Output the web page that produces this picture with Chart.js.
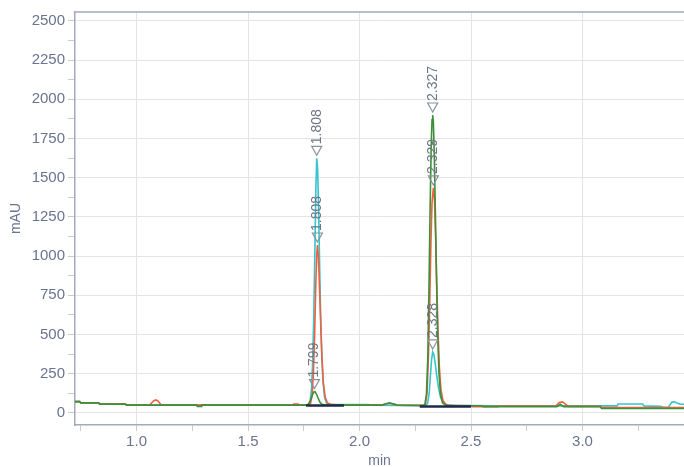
<!DOCTYPE html>
<html>
<head>
<meta charset="utf-8">
<script src="https://cdn.jsdelivr.net/npm/chart.js@4.4.1/dist/chart.umd.min.js"></script>
<style>
  html, body { margin: 0; padding: 0; background: #fff; }
  #wrap { width: 684px; height: 467px; }
</style>
</head>
<body>
<div id="wrap"><canvas id="chart"></canvas></div>
<script>
// traces as [time (min), absorbance (mAU)] pairs
const greenTrace = [
  [0.724, 72], [0.745, 72], [0.75, 64], [0.83, 64], [0.835, 56], [0.95, 56], [0.955, 50],
  [1.27, 50], [1.272, 42], [1.29, 42], [1.292, 50], [1.76, 50], [1.77, 55], [1.78, 80],
  [1.788, 112], [1.795, 134], [1.80, 136], [1.806, 122], [1.814, 95], [1.822, 70],
  [1.832, 55], [1.845, 50], [2.10, 50], [2.12, 58], [2.135, 64], [2.15, 58], [2.17, 50],
  [2.285, 48], [2.293, 55], [2.30, 120], [2.306, 350], [2.311, 760], [2.316, 1260],
  [2.321, 1680], [2.325, 1870], [2.328, 1900], [2.331, 1860], [2.335, 1660], [2.34, 1280],
  [2.345, 870], [2.35, 520], [2.356, 260], [2.363, 120], [2.372, 65], [2.385, 50],
  [2.40, 46], [2.55, 46], [2.555, 40], [2.885, 40], [2.90, 55], [2.915, 40], [3.08, 40],
  [3.085, 28], [3.455, 28]
];
const redTrace = [
  [0.724, 72], [0.745, 72], [0.75, 64], [0.83, 64], [0.835, 56], [0.95, 56], [0.955, 50],
  [1.06, 52], [1.075, 75], [1.085, 83], [1.095, 78], [1.11, 52], [1.12, 50], [1.70, 50],
  [1.705, 56], [1.725, 56], [1.73, 50], [1.77, 50], [1.78, 60], [1.787, 110], [1.793, 250],
  [1.799, 520], [1.804, 830], [1.808, 1010], [1.811, 1071], [1.815, 1010], [1.82, 820],
  [1.826, 560], [1.832, 340], [1.838, 190], [1.846, 100], [1.856, 65], [1.87, 55],
  [1.895, 52], [2.10, 50], [2.12, 58], [2.135, 62], [2.15, 56], [2.17, 50], [2.288, 47],
  [2.296, 55], [2.303, 130], [2.309, 360], [2.315, 720], [2.32, 1080], [2.325, 1340],
  [2.331, 1435], [2.336, 1360], [2.341, 1130], [2.346, 830], [2.352, 520], [2.358, 290],
  [2.365, 150], [2.374, 80], [2.386, 55], [2.40, 48], [2.50, 46], [2.505, 40], [2.62, 40],
  [2.625, 44], [2.88, 44], [2.895, 66], [2.91, 70], [2.925, 55], [2.935, 42], [3.08, 42],
  [3.085, 34], [3.455, 34]
];
const cyanTrace = [
  [0.724, 72], [0.745, 72], [0.75, 64], [0.83, 64], [0.835, 56], [0.95, 56], [0.955, 50],
  [1.76, 50], [1.77, 52], [1.778, 70], [1.785, 160], [1.79, 330], [1.795, 640],
  [1.80, 1060], [1.804, 1420], [1.808, 1624], [1.812, 1560], [1.816, 1330], [1.82, 1020],
  [1.825, 660], [1.83, 390], [1.836, 200], [1.843, 100], [1.852, 62], [1.865, 54],
  [1.92, 54], [2.04, 54], [2.045, 50], [2.295, 46], [2.305, 60], [2.312, 120],
  [2.318, 240], [2.323, 340], [2.328, 389], [2.333, 375], [2.339, 320], [2.346, 240],
  [2.354, 160], [2.363, 100], [2.375, 65], [2.39, 52], [2.42, 48], [2.60, 46],
  [2.605, 45], [3.155, 45], [3.16, 57], [3.27, 57], [3.275, 45], [3.35, 42], [3.36, 36],
  [3.385, 36], [3.40, 68], [3.41, 72], [3.425, 62], [3.44, 55], [3.455, 55]
];
// integration baselines under the two peaks
const baseline1 = [[1.76, 48], [1.93, 48]];
const baseline2 = [[2.27, 41], [2.50, 41]];

// peak labels
const peakTimes = [1.808, 1.811, 1.798, 2.328, 2.331, 2.328];
const peakHeights = [1624, 1071, 136, 1900, 1435, 389];
const peakTexts = ["1.808", "1.808", "1.799", "2.327", "2.329", "2.328"];

// axes
const xMin = 0.724, xMax = 3.455;
const yMin = -77, yMax = 2557;
const xTicks = [0.75, 1.0, 1.25, 1.5, 1.75, 2.0, 2.25, 2.5, 2.75, 3.0, 3.25];
const yTicks = [0, 125, 250, 375, 500, 625, 750, 875, 1000, 1125, 1250, 1375,
  1500, 1625, 1750, 1875, 2000, 2125, 2250, 2375, 2500];

const labelColor = "#6a7391";
const axisColor = "#a3a8bb";
const gridColor = "#e4e4e4";
const font = { family: "Liberation Sans, Arial, sans-serif", size: 15 };

const isMult = (v, step) => Math.abs(v / step - Math.round(v / step)) < 1e-6;
const toPoints = (pairs) => pairs.map(([x, y]) => ({ x, y }));

const frame = {
  id: "frame",
  afterDraw(chart) {
    const { ctx, chartArea } = chart;
    ctx.save();
    ctx.strokeStyle = axisColor;
    ctx.lineWidth = 1.5;
    ctx.beginPath();
    ctx.moveTo(chartArea.left, chartArea.top);
    ctx.lineTo(chartArea.right, chartArea.top);
    ctx.stroke();
    ctx.restore();
  },
};

const peakLabels = {
  id: "peakLabels",
  afterDatasetsDraw(chart) {
    const { ctx } = chart;
    const { x, y } = chart.scales;
    ctx.save();
    ctx.font = "14px Liberation Sans, Arial, sans-serif";
    ctx.fillStyle = "#6d7585";
    ctx.strokeStyle = "#8b909c";
    ctx.lineWidth = 1.2;
    peakTimes.forEach((t, i) => {
      const px = x.getPixelForValue(t);
      const tip = y.getPixelForValue(peakHeights[i]) - 3;
      ctx.beginPath();
      ctx.moveTo(px, tip);
      ctx.lineTo(px - 5, tip - 9);
      ctx.lineTo(px + 5, tip - 9);
      ctx.closePath();
      ctx.stroke();
      ctx.save();
      ctx.translate(px, tip - 11);
      ctx.rotate(-Math.PI / 2);
      ctx.textAlign = "left";
      ctx.textBaseline = "middle";
      ctx.fillText(peakTexts[i], 0, 0);
      ctx.restore();
    });
    ctx.restore();
  },
};

const line = (data, color, width) => ({
  data: toPoints(data),
  borderColor: color,
  borderWidth: width,
  pointRadius: 0,
  tension: 0,
  fill: false,
});

new Chart(document.getElementById("chart"), {
  type: "line",
  data: {
    datasets: [
      line(baseline1, "#1d2a4a", 2.5),
      line(baseline2, "#1d2a4a", 2.5),
      line(greenTrace, "#3f8f3a", 1.6),
      line(redTrace, "#f2603f", 1.6),
      line(cyanTrace, "#36c5cc", 1.6),
    ],
  },
  options: {
    responsive: true,
    maintainAspectRatio: false,
    animation: false,
    layout: { padding: { left: 0, right: 0, top: 12, bottom: 0 } },
    plugins: { legend: { display: false }, tooltip: { enabled: false } },
    scales: {
      x: {
        type: "linear",
        min: xMin,
        max: xMax,
        afterBuildTicks: (s) => { s.ticks = xTicks.map((value) => ({ value })); },
        afterFit: (s) => { s.height = 42; },
        border: { color: axisColor, width: 1.5 },
        grid: {
          color: (c) => (isMult(c.tick.value, 0.5) ? gridColor : "transparent"),
          tickColor: "#c8cbd6",
          tickLength: 6,
        },
        ticks: {
          autoSkip: false,
          maxRotation: 0,
          color: labelColor,
          font,
          padding: 2,
          callback: (v) => (isMult(v, 0.5) ? v.toFixed(1) : ""),
        },
        title: { display: true, text: "min", color: labelColor, font: { ...font, size: 14 }, padding: { top: 4, bottom: -3 } },
      },
      y: {
        type: "linear",
        min: yMin,
        max: yMax,
        afterBuildTicks: (s) => { s.ticks = yTicks.map((value) => ({ value })); },
        afterFit: (s) => { s.width = 75; },
        border: { color: axisColor, width: 1.5 },
        grid: {
          color: (c) => (isMult(c.tick.value, 250) ? gridColor : "transparent"),
          tickColor: "#c8cbd6",
          tickLength: 7,
        },
        ticks: {
          autoSkip: false,
          color: labelColor,
          font,
          padding: 3,
          callback: (v) => (isMult(v, 250) ? String(v) : ""),
        },
        title: { display: true, text: "mAU", color: labelColor, font: { ...font, size: 14 }, padding: { top: 8, bottom: 2 } },
      },
    },
  },
  plugins: [frame, peakLabels],
});
</script>
</body>
</html>
